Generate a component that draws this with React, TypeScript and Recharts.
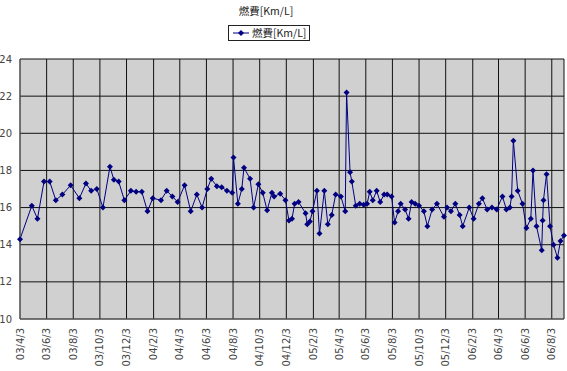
import React from 'react';
import { LineChart, Line, XAxis, YAxis, CartesianGrid } from 'recharts';

// fill-up dates (yy/m/d) and fuel economy readings [Km/L]
const dates = [
  '03/4/3', '03/4/30', '03/5/13', '03/5/28', '03/6/10', '03/6/24', '03/7/9', '03/7/28',
  '03/8/17', '03/9/1', '03/9/13', '03/9/26', '03/10/10', '03/10/26', '03/11/4', '03/11/15',
  '03/11/28', '03/12/13', '03/12/25', '04/1/7', '04/1/20', '04/2/1', '04/2/20', '04/3/4',
  '04/3/17', '04/3/29', '04/4/14', '04/4/28', '04/5/12', '04/5/24', '04/6/5', '04/6/14',
  '04/6/27', '04/7/8', '04/7/20', '04/8/1', '04/8/4', '04/8/14', '04/8/23', '04/8/28',
  '04/9/11', '04/9/19', '04/9/30', '04/10/10', '04/10/20', '04/10/31', '04/11/5', '04/11/19',
  '04/12/1', '04/12/9', '04/12/16', '04/12/22', '04/12/31', '05/1/16', '05/1/20', '05/1/26',
  '05/2/1', '05/2/11', '05/2/17', '05/2/28', '05/3/8', '05/3/17', '05/3/26', '05/4/7',
  '05/4/17', '05/4/20', '05/4/28', '05/5/2', '05/5/11', '05/5/20', '05/5/29', '05/6/6',
  '05/6/12', '05/6/19', '05/6/28', '05/7/6', '05/7/15', '05/7/22', '05/8/1', '05/8/8',
  '05/8/16', '05/8/22', '05/9/1', '05/9/9', '05/9/16', '05/9/24', '05/10/3', '05/10/14',
  '05/10/22', '05/11/2', '05/11/13', '05/11/29', '05/12/6', '05/12/15', '05/12/25', '06/1/4',
  '06/1/11', '06/1/26', '06/2/5', '06/2/17', '06/2/25', '06/3/8', '06/3/19', '06/3/30',
  '06/4/12', '06/4/21', '06/4/29', '06/5/3', '06/5/7', '06/5/17', '06/5/28', '06/6/6',
  '06/6/16', '06/6/21', '06/6/29', '06/7/11', '06/7/13', '06/7/15', '06/7/22', '06/7/30',
  '06/8/7', '06/8/16', '06/8/23', '06/8/31',
];

const mileage = [
  14.3, 16.1, 15.4, 17.4, 17.4, 16.4, 16.7, 17.2,
  16.5, 17.3, 16.9, 17.0, 16.0, 18.2, 17.5, 17.4,
  16.4, 16.9, 16.85, 16.85, 15.8, 16.5, 16.4, 16.9,
  16.6, 16.3, 17.2, 15.8, 16.7, 16.0, 17.0, 17.55,
  17.15, 17.1, 16.9, 16.8, 18.7, 16.2, 17.0, 18.15,
  17.55, 16.0, 17.25, 16.8, 15.85, 16.8, 16.6, 16.75,
  16.4, 15.3, 15.4, 16.2, 16.3, 15.7, 15.1, 15.25,
  15.8, 16.9, 14.6, 16.9, 15.1, 15.6, 16.7, 16.6,
  15.8, 22.2, 17.9, 17.4, 16.1, 16.2, 16.15, 16.2,
  16.85, 16.4, 16.9, 16.3, 16.7, 16.7, 16.6, 15.2,
  15.8, 16.2, 15.9, 15.4, 16.3, 16.2, 16.1, 15.8,
  15.0, 15.9, 16.2, 15.5, 16.0, 15.8, 16.2, 15.6,
  15.0, 16.0, 15.4, 16.2, 16.5, 15.9, 16.0, 15.9,
  16.6, 15.9, 16.0, 16.6, 19.6, 16.9, 16.2, 14.9,
  15.4, 18.0, 15.0, 13.7, 15.3, 16.4, 17.8, 15.0,
  14.0, 13.3, 14.2, 14.5,
];

const tickDates = [
  '03/4/3', '03/6/3', '03/8/3', '03/10/3', '03/12/3', '04/2/3', '04/4/3',
  '04/6/3', '04/8/3', '04/10/3', '04/12/3', '05/2/3', '05/4/3', '05/6/3',
  '05/8/3', '05/10/3', '05/12/3', '06/2/3', '06/4/3', '06/6/3', '06/8/3',
];
const yTicks = [10, 12, 14, 16, 18, 20, 22, 24];
const seriesName = '燃費[Km/L]';

const START = Date.UTC(2003, 3, 3);
const toDay = (s: string) => {
  const [y, m, d] = s.split('/').map(Number);
  return Math.round((Date.UTC(2000 + y, m - 1, d) - START) / 86400000);
};
const fmtDay = (v: number) => {
  const dt = new Date(START + v * 86400000);
  const yy = String(dt.getUTCFullYear() % 100).padStart(2, '0');
  return `${yy}/${dt.getUTCMonth() + 1}/${dt.getUTCDate()}`;
};

const data = dates.map((d, i) => ({ day: toDay(d), value: mileage[i] }));
const xTicks = tickDates.map(toDay);
const lastDay = toDay(dates[dates.length - 1]);

const NAVY = '#000080';
const labelFont = '"DejaVu Sans", sans-serif';
const cjkFont = '"Noto Sans CJK JP", "DejaVu Sans", sans-serif';

const Diamond = (props: any) => {
  const { cx, cy } = props;
  if (cx == null || cy == null) return null;
  return <path d={`M${cx},${cy - 3}L${cx + 3},${cy}L${cx},${cy + 3}L${cx - 3},${cy}Z`} fill={NAVY} />;
};

const DateTick = (props: any) => {
  const { x, y, payload } = props;
  const ty = y + 1;
  return (
    <text
      x={x}
      y={ty}
      transform={`rotate(-90, ${x}, ${ty})`}
      textAnchor="end"
      dominantBaseline="central"
      fontSize={10}
      fontFamily={labelFont}
      fill="#444"
    >
      {fmtDay(payload.value)}
    </text>
  );
};

export default function App() {
  return (
    <div style={{ position: 'absolute', left: 0, top: 0, width: 567, height: 371, background: '#fff' }}>
      <div style={{ position: 'absolute', left: 216, top: 4, width: 100, textAlign: 'center', fontSize: 10.5, lineHeight: '14px', fontFamily: cjkFont, color: '#222', whiteSpace: 'nowrap' }}>
        {seriesName}
      </div>
      <div style={{ position: 'absolute', left: 228, top: 25, height: 14, paddingRight: 3, border: '1px solid #222', background: '#fff', display: 'flex', alignItems: 'center', fontSize: 10.5, lineHeight: '14px', fontFamily: cjkFont, color: '#222', whiteSpace: 'nowrap' }}>
        <svg width={21} height={14} style={{ flex: 'none' }}>
          <line x1={4} y1={7} x2={20} y2={7} stroke={NAVY} strokeWidth={1} />
          <path d="M12,4L15,7L12,10L9,7Z" fill={NAVY} />
        </svg>
        <span style={{ marginLeft: 2 }}>{seriesName}</span>
      </div>
      <LineChart width={567} height={371} data={data} margin={{ top: 59, right: 3, left: 0, bottom: 0 }}>
        <CartesianGrid fill="#d0d0d0" stroke="#111" strokeWidth={1} />
        <XAxis
          dataKey="day"
          type="number"
          domain={[0, lastDay]}
          ticks={xTicks}
          interval={0}
          height={52}
          tickLine={false}
          axisLine={{ stroke: '#666' }}
          tick={<DateTick />}
        />
        <YAxis
          domain={[10, 24]}
          ticks={yTicks}
          width={20}
          interval={0}
          tickLine={false}
          axisLine={{ stroke: '#666' }}
          tick={{ fontSize: 10, fontFamily: labelFont, fill: '#444' }}
        />
        <Line
          dataKey="value"
          name={seriesName}
          stroke={NAVY}
          strokeWidth={1}
          dot={<Diamond />}
          activeDot={false}
          isAnimationActive={false}
        />
      </LineChart>
    </div>
  );
}
